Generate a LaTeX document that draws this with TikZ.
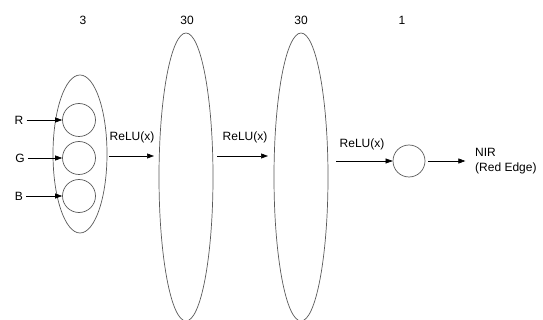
\documentclass[tikz,border=0pt]{standalone}
\usepackage{fontspec}
\setmainfont{Liberation Sans}
\usetikzlibrary{arrows.meta,shapes.geometric}
\begin{document}
\begin{tikzpicture}[x=1pt,y=-1pt,
  every node/.style={font=\fontsize{12}{15.5}\selectfont, inner sep=0pt},
  layer/.style={draw=black!65, line width=0.7pt, ellipse, minimum width=54pt},
  unit/.style={draw=black!65, line width=0.7pt, circle, minimum size=33pt},
  flow/.style={draw=black, line width=0.6pt, -{Triangle[length=7pt,width=5pt]}}]
\useasboundingbox (0,0) rectangle (543,320);
% layer sizes
\node (n1) at (83,20) {3};
\node (n2) at (187,20) {30};
\node (n3) at (301,20) {30};
\node (n4) at (402,20) {1};
% input layer
\node[layer, minimum height=158pt] (in) at (80,154) {};
\node[unit] (cr) at (79,120) {};
\node[unit] (cg) at (79,158) {};
\node[unit] (cb) at (79,196) {};
\node (r) at (19,120) {R};
\node (g) at (20,158) {G};
\node (b) at (19,196) {B};
\draw[flow] (r.east) ++(3,0) coordinate (rs) -- (cr.west);
\draw[flow] (g.east) ++(3,0) coordinate (gs) -- (cg.west);
\draw[flow] (b.east) ++(3,0) coordinate (bs) -- (cb.west);
% hidden layers
\node[layer, minimum height=288pt] (h1) at (186,177) {};
\node[layer, minimum height=288pt] (h2) at (301,177) {};
% output unit
\node[unit, minimum size=32pt] (out) at (409,161) {};
\node[align=left, anchor=west] (nir) at (475,161) {NIR\\(Red Edge)};
% activations
\coordinate (a1s) at (109,156); \coordinate (a1e) at (154,156);
\coordinate (a2s) at (217,156); \coordinate (a2e) at (268,156);
\coordinate (a3s) at (336,161);
\draw[flow] (a1s) -- (a1e);
\draw[flow] (a2s) -- (a2e);
\draw[flow] (a3s) -- (out.west);
\draw[flow] (out.east) ++(3,0) coordinate (os) -- ++(37,0) coordinate (oe);
\node (l1) at (132,137) {ReLU(x)};
\node (l2) at (245,137) {ReLU(x)};
\node (l3) at (362,144) {ReLU(x)};
\end{tikzpicture}
\end{document}
